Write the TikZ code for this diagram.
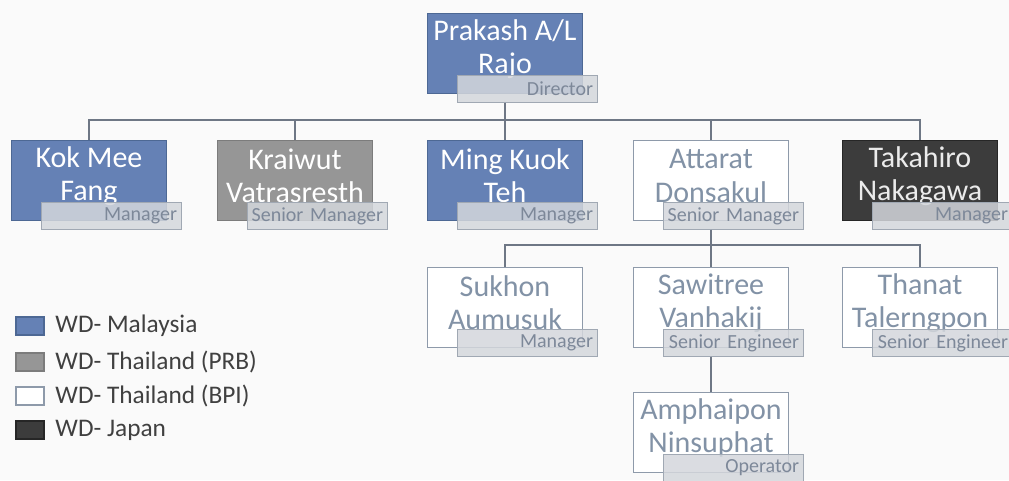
\documentclass[tikz,border=0pt]{standalone}
\usepackage{fontspec}
\setmainfont{Carlito}
\usetikzlibrary{positioning}
\definecolor{wdblue}{HTML}{6581B5}
\definecolor{wdblueline}{HTML}{4D6894}
\definecolor{wdgray}{HTML}{969696}
\definecolor{wdgrayline}{HTML}{7C7C7C}
\definecolor{wdline}{HTML}{8E9AAA}
\definecolor{wddark}{HTML}{3C3C3C}
\definecolor{wddarkline}{HTML}{262626}
\definecolor{tagfill}{HTML}{D4D7DC}
\definecolor{tagline}{HTML}{A0A8B3}
\definecolor{tagtext}{HTML}{7D8899}
\definecolor{nametext}{HTML}{8292A6}
\definecolor{linkcol}{HTML}{6E7785}
\definecolor{legtextcol}{HTML}{404040}

\begin{document}
\begin{tikzpicture}[x=0.75pt,y=-0.75pt,
    person/.style={minimum width=116pt,minimum height=60pt,inner sep=0pt},
    malay/.style={person,fill=wdblue,draw=wdblueline},
    prb/.style={person,fill=wdgray,draw=wdgrayline},
    bpi/.style={person,fill=white,draw=wdline},
    japan/.style={person,fill=wddark,draw=wddarkline},
    whitename/.style={text=white,align=center,font=\fontsize{22.5}{25}\selectfont},
    grayname/.style={whitename,text=nametext},
    tag/.style={anchor=south east,fill=tagfill,fill opacity=.85,text opacity=1,draw=tagline,
        minimum height=20pt,text width=99pt,inner xsep=3pt,inner ysep=0pt,align=right,
        text=tagtext,font=\fontsize{15}{16}\selectfont},
    link/.style={draw=linkcol,line width=0.8pt},
    legbox/.style={minimum width=21pt,minimum height=13.5pt,inner sep=0pt,line width=0.8pt},
    legtext/.style={inner sep=0pt,text=legtextcol,font=\fontsize{19}{22}\selectfont},
    ]
    \fill[white!98!black] (0,0) rectangle (1009,480);
    \useasboundingbox (0,0) rectangle (1009,480);
    % director
    \node[malay] (prakash) at (505,53) {};
    \node[whitename] (prakashname) at ([yshift=3pt]prakash.center) {Prakash A/L\\Rajo};
    \node[tag] (prakashtag) at ([xshift=11pt,yshift=-7pt]prakash.south east) {Director};
    % managers
    \node[malay] (kok) at (89,180) {};
    \node[whitename] (kokname) at ([yshift=3pt]kok.center) {Kok Mee\\Fang};
    \node[tag] (koktag) at ([xshift=11pt,yshift=-7pt]kok.south east) {Manager};
    \node[prb] (krai) at (295,180) {};
    \node[whitename] (krainame) at ([yshift=3pt]krai.center) {Kraiwut\\Vatrasresth};
    \node[tag] (kraitag) at ([xshift=11pt,yshift=-7pt]krai.south east) {Senior Manager};
    \node[malay] (ming) at (505,180) {};
    \node[whitename] (mingname) at ([yshift=3pt]ming.center) {Ming Kuok\\Teh};
    \node[tag] (mingtag) at ([xshift=11pt,yshift=-7pt]ming.south east) {Manager};
    \node[bpi] (atta) at (711,180) {};
    \node[grayname] (attaname) at ([yshift=3pt]atta.center) {Attarat\\Donsakul};
    \node[tag] (attatag) at ([xshift=11pt,yshift=-7pt]atta.south east) {Senior Manager};
    \node[japan] (taka) at (920,180) {};
    \node[whitename,text=white!92!black] (takaname) at ([yshift=3pt]taka.center) {Takahiro\\Nakagawa};
    \node[tag] (takatag) at ([xshift=11pt,yshift=-7pt]taka.south east) {Manager};
    % under Attarat
    \node[bpi] (sukh) at (505,307) {};
    \node[grayname] (sukhname) at ([yshift=3pt]sukh.center) {Sukhon\\Aumusuk};
    \node[tag] (sukhtag) at ([xshift=11pt,yshift=-7pt]sukh.south east) {Manager};
    \node[bpi] (sawi) at (711,307) {};
    \node[grayname] (sawiname) at ([yshift=3pt]sawi.center) {Sawitree\\Vanhakij};
    \node[tag] (sawitag) at ([xshift=11pt,yshift=-7pt]sawi.south east) {Senior Engineer};
    \node[bpi] (than) at (920,307) {};
    \node[grayname] (thanname) at ([yshift=3pt]than.center) {Thanat\\Talerngpon};
    \node[tag] (thantag) at ([xshift=11pt,yshift=-7pt]than.south east) {Senior Engineer};
    \node[bpi] (amph) at (711,432) {};
    \node[grayname] (amphname) at ([yshift=3pt]amph.center) {Amphaipon\\Ninsuphat};
    \node[tag] (amphtag) at ([xshift=11pt,yshift=-7pt]amph.south east) {Operator};
    % connectors
    \coordinate (bus1) at (505,120);
    \coordinate (bus2) at (711,245);
    \draw[link] (prakashtag.south -| prakash) -- (bus1);
    \draw[link] (kok.north) -- (kok.north |- bus1) -- (taka.north |- bus1) -- (taka.north);
    \draw[link] (krai.north) -- (krai.north |- bus1);
    \draw[link] (ming.north) -- (ming.north |- bus1);
    \draw[link] (atta.north) -- (atta.north |- bus1);
    \draw[link] (attatag.south -| atta) -- (sawi.north);
    \draw[link] (sukh.north) -- (sukh.north |- bus2) -- (than.north |- bus2) -- (than.north);
    \draw[link] (sawitag.south -| sawi) -- (amph.north);
    % legend
    \node[legbox,fill=wdblue,draw=wdblueline] (legmy) at (30,326) {};
    \node[legtext,right=8pt of legmy] (legmytext) {WD- Malaysia};
    \node[legbox,fill=wdgray,draw=wdgrayline] (legprb) at (30,362) {};
    \node[legtext,right=8pt of legprb] (legprbtext) {WD- Thailand (PRB)};
    \node[legbox,fill=white,draw=wdline] (legbpi) at (30,396) {};
    \node[legtext,right=8pt of legbpi] (legbpitext) {WD- Thailand (BPI)};
    \node[legbox,fill=wddark,draw=wddarkline] (legjp) at (30,430) {};
    \node[legtext,right=8pt of legjp] (legjptext) {WD- Japan};
\end{tikzpicture}
\end{document}
